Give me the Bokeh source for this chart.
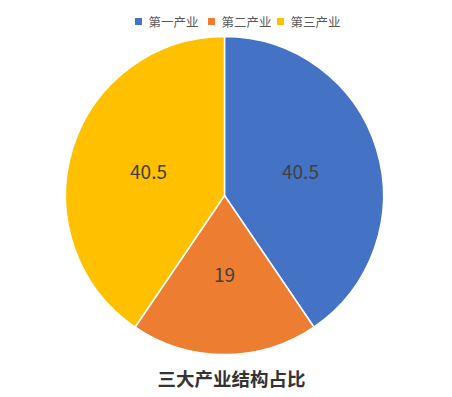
import math
from bokeh.plotting import figure
from bokeh.models import Range1d, ColumnDataSource
from bokeh.core.properties import value
from bokeh.embed import file_html
from bokeh.resources import INLINE

categories = ["第一产业", "第二产业", "第三产业"]
values = [40.5, 19, 40.5]
labels = ["40.5", "19", "40.5"]
colors = ["#4472C4", "#ED7D31", "#FFC000"]
title_text = "三大产业结构占比"

W, H = 452, 397
cx, cy, R = 224, H - 195, 159

total = sum(values)
starts, ends, lx, ly = [], [], [], []
a = math.pi / 2
for v in values:
    span = 2 * math.pi * v / total
    starts.append(a)
    ends.append(a - span)
    mid = a - span / 2
    lx.append(cx + 0.5 * R * math.cos(mid))
    ly.append(cy + 0.5 * R * math.sin(mid))
    a -= span

src = ColumnDataSource(dict(start=starts, end=ends, color=colors, lx=lx, ly=ly, label=labels))

p = figure(width=W, height=H, output_backend="svg", toolbar_location=None,
           x_range=Range1d(0, W), y_range=Range1d(0, H), min_border=0)
p.axis.visible = False
p.grid.visible = False
p.outline_line_color = None
p.background_fill_color = "white"

p.wedge(x=cx, y=cy, radius=R, start_angle="start", end_angle="end", direction="clock",
        fill_color="color", line_color="white", line_width=1.5, source=src)

p.text(x="lx", y="ly", text="label", source=src, text_align="center", text_baseline="middle",
       text_font=value("Noto Sans CJK SC"), text_font_size="19px", text_color="#404040")

# legend
leg_sq_x = [138, 211, 280]
leg_y = H - 21
p.scatter(x=leg_sq_x, y=[leg_y] * 3, marker="square", size=7, fill_color=colors, line_color=None)
p.text(x=[x + 10 for x in leg_sq_x], y=[leg_y] * 3, text=categories, text_align="left",
       text_baseline="middle", text_font=value("Noto Sans CJK SC"), text_font_size="12.5px",
       text_color="#595959")

# title
p.text(x=[231], y=[H - 377], text=[title_text], text_align="center", text_baseline="middle",
       text_font=value("Noto Sans CJK SC"), text_font_size="18.5px", text_font_style="bold",
       text_color="#333333")

open("out.html", "w").write(file_html(p, INLINE))
